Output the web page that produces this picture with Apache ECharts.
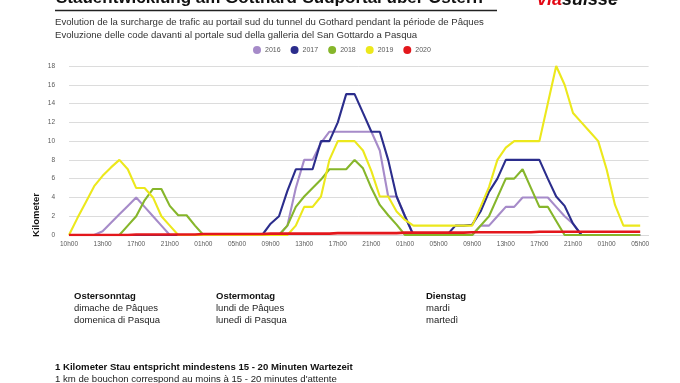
<!DOCTYPE html>
<html>
<head>
<meta charset="utf-8">
<script src="https://cdn.jsdelivr.net/npm/echarts@6/dist/echarts.min.js"></script>
<style>
html,body{margin:0;padding:0;background:#fff;}
#chart{width:680px;height:383px;}
</style>
</head>
<body>
<div id="chart"></div>
<script>
// x-axis tick labels (every 4th hourly slot)
const tickLabels = ['10h00','13h00','17h00','21h00','01h00','05h00','09h00','13h00','17h00','21h00','01h00','05h00','09h00','13h00','17h00','21h00','01h00','05h00'];
const slotCount = 70;
const years = ['2016','2017','2018','2019','2020'];
const colors = ['#a68bc9','#2b2d8c','#86b62b','#ece81c','#e3171c'];

const y2016 = [0,0,0,0,0.4,1.3,2.2,3.1,4,3,
  2,1,0,0,0,0,0,0,0,0,
  0,0,0,0,0,0,1,5,8,8,
  9.8,11,11,11,11,11,11,9,4.1,4.1,
  2,0,0,0,0,0,0,0,0,1,
  1,2,3,3,4,4,4,4,3,2,
  1.2,0,0,0,0,0,0,0,0];
const y2017 = [0,0,0,0,0,0,0,0,0,0,
  0,0,0,0,0,0,0,0,0,0,
  0,0,0,0,1.2,2,4.7,7,7,7,
  10,10,12,15,15,13,11,11,8,4.1,
  2,0,0,0,0,0,1,1,1.1,2.5,
  4.6,6,8,8,8,8,8,6,4.1,3.1,
  1.2,0,0,0,0,0,0,0,0];
const y2018 = [0,0,0,0,0,0,0,1,2,3.7,
  4.9,4.9,3.1,2.1,2.1,1,0,0,0,0,
  0,0,0,0,0,0,1,3,4.1,5,
  5.9,7,7,7,8,7.1,5,3.2,2.1,1.1,
  0,0,0,0,0,0,0,0,0,1,
  2,4,6,6,7,5,3,3,1.5,0,
  0,0,0,0,0,0,0,0,0];
const y2019 = [0,1.8,3.5,5.2,6.3,7.2,8,7,5,5,
  4,2,1,0,0,0,0,0,0,0,
  0,0,0,0,0,0,0,1,3,3,
  4.1,8,10,10,10,9,6.8,4.1,4.1,2.5,
  1.6,1,1,1,1,1,1,1,1,3,
  5.1,8,9.3,10,10,10,10,14,18,16,
  13,12,11,10,7,3.2,1,1,1];
const y2020 = [0,0,0,0,0,0,0,0,0.05,0.05,
  0.05,0.05,0.05,0.05,0.05,0.05,0.1,0.1,0.1,0.1,
  0.1,0.1,0.1,0.1,0.15,0.15,0.15,0.15,0.15,0.15,
  0.15,0.15,0.2,0.2,0.2,0.2,0.2,0.2,0.2,0.2,
  0.25,0.25,0.25,0.25,0.25,0.25,0.25,0.25,0.3,0.3,
  0.3,0.3,0.3,0.3,0.3,0.3,0.35,0.35,0.35,0.35,
  0.35,0.35,0.35,0.35,0.35,0.35,0.35,0.35,0.35];
const seriesValues = [y2016, y2017, y2018, y2019, y2020];

const categories = [];
for (let i = 0; i < slotCount; i++) categories.push(String(i));

const FONT = '"Liberation Sans", Arial, sans-serif';
const chart = echarts.init(document.getElementById('chart'), null, {renderer: 'canvas'});

const option = {
  animation: false,
  backgroundColor: '#ffffff',
  color: colors,
  textStyle: {fontFamily: FONT},
  legend: {
    data: years,
    left: 253,
    top: 46,
    icon: 'circle',
    itemWidth: 8,
    itemHeight: 8,
    itemGap: 10,
    padding: 0,
    textStyle: {fontSize: 7, color: '#595959', fontFamily: FONT, padding: [0,0,0,-1]}
  },
  grid: {left: 69, right: 31.4, top: 66, bottom: 148, containLabel: false},
  xAxis: {
    type: 'category',
    data: categories,
    boundaryGap: false,
    axisLine: {show: true, lineStyle: {color: '#d9d9d9', width: 1}},
    axisTick: {show: false},
    splitLine: {show: false},
    axisLabel: {
      interval: 3,
      fontSize: 6.5,
      color: '#595959',
      margin: 6,
      fontFamily: FONT,
      formatter: function (v) { const n = Number(v); return n % 4 === 0 && tickLabels[n / 4] ? tickLabels[n / 4] : ''; }
    }
  },
  yAxis: {
    type: 'value',
    min: 0, max: 18, interval: 2,
    axisLine: {show: false},
    axisTick: {show: false},
    splitLine: {show: true, lineStyle: {color: '#dcdcdc', width: 1}},
    axisLabel: {fontSize: 6.5, color: '#595959', margin: 14, fontFamily: FONT}
  },
  series: years.map(function (y, k) {
    return {
      name: y,
      type: 'line',
      data: seriesValues[k],
      showSymbol: false,
      symbol: 'circle',
      smooth: false,
      lineStyle: {width: k === 4 ? 2.6 : 2.1, color: colors[k]},
      itemStyle: {color: colors[k]},
      z: 2 + k
    };
  }),
  graphic: [
    {type: 'text', left: 56, top: -10, style: {text: 'Stauentwicklung am Gotthard-Südportal über Ostern', font: 'bold 17px ' + FONT, fill: '#111'}},
    {type: 'line', shape: {x1: 55, y1: 10.5, x2: 497, y2: 10.5}, style: {stroke: '#222', lineWidth: 1.5}},
    {type: 'text', left: 537, top: -9, style: {text: '{a|via}{b|suisse}', font: 'italic bold 18px ' + FONT, rich: {a: {fill: '#e30613', font: 'italic bold 18px ' + FONT}, b: {fill: '#111', font: 'italic bold 18px ' + FONT}}}},
    {type: 'text', left: 55, top: 17, style: {text: 'Evolution de la surcharge de trafic au portail sud du tunnel du Gothard pendant la période de Pâques', font: '9.6px ' + FONT, fill: '#333'}},
    {type: 'text', left: 55, top: 30, style: {text: 'Evoluzione delle code davanti al portale sud della galleria del San Gottardo a Pasqua', font: '9.6px ' + FONT, fill: '#333'}},
    {type: 'text', x: 36, y: 215, rotation: Math.PI / 2, style: {text: 'Kilometer', font: 'bold 9.5px ' + FONT, fill: '#111', align: 'center', verticalAlign: 'middle'}},
    {type: 'text', left: 74, top: 291, style: {text: 'Ostersonntag', font: 'bold 9.5px ' + FONT, fill: '#111'}},
    {type: 'text', left: 74, top: 303, style: {text: 'dimache de Pâques', font: '9.5px ' + FONT, fill: '#222'}},
    {type: 'text', left: 74, top: 315, style: {text: 'domenica di Pasqua', font: '9.5px ' + FONT, fill: '#222'}},
    {type: 'text', left: 216, top: 291, style: {text: 'Ostermontag', font: 'bold 9.5px ' + FONT, fill: '#111'}},
    {type: 'text', left: 216, top: 303, style: {text: 'lundi de Pâques', font: '9.5px ' + FONT, fill: '#222'}},
    {type: 'text', left: 216, top: 315, style: {text: 'lunedì di Pasqua', font: '9.5px ' + FONT, fill: '#222'}},
    {type: 'text', left: 426, top: 291, style: {text: 'Dienstag', font: 'bold 9.5px ' + FONT, fill: '#111'}},
    {type: 'text', left: 426, top: 303, style: {text: 'mardi', font: '9.5px ' + FONT, fill: '#222'}},
    {type: 'text', left: 426, top: 315, style: {text: 'martedì', font: '9.5px ' + FONT, fill: '#222'}},
    {type: 'text', left: 55, top: 362, style: {text: '1 Kilometer Stau entspricht mindestens 15 - 20 Minuten Wartezeit', font: 'bold 9.6px ' + FONT, fill: '#111'}},
    {type: 'text', left: 55, top: 374, style: {text: '1 km de bouchon correspond au moins à 15 - 20 minutes d\'attente', font: '9.6px ' + FONT, fill: '#222'}}
  ]
};
chart.setOption(option);
</script>
</body>
</html>
